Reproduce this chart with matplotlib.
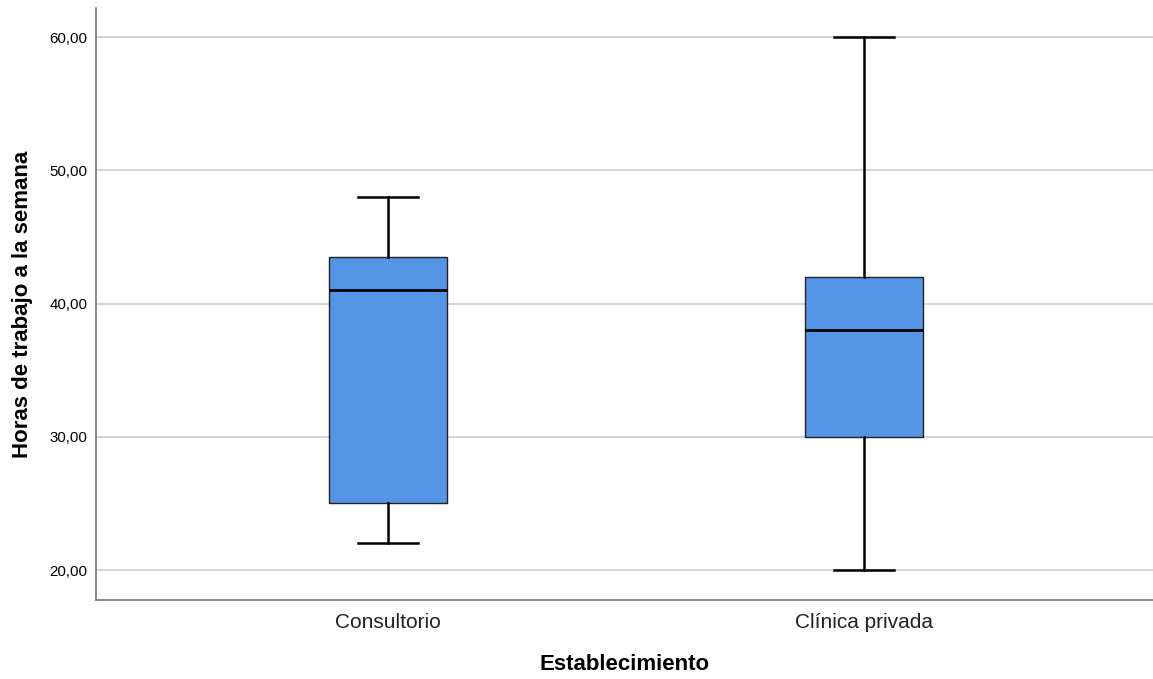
import matplotlib
matplotlib.use('Agg')
import matplotlib.pyplot as plt

plt.rcParams['font.family'] = ['Liberation Sans', 'DejaVu Sans']

# box statistics (hours per week)
categories = ['Consultorio', 'Clínica privada']
whislo = [22, 20]
q1 = [25, 30]
med = [41, 38]
q3 = [43.5, 42]
whishi = [48, 60]
yticks = [20, 30, 40, 50, 60]

stats = []
for i in range(len(categories)):
    stats.append({'label': categories[i], 'whislo': whislo[i], 'q1': q1[i],
                  'med': med[i], 'q3': q3[i], 'whishi': whishi[i], 'fliers': []})

fig = plt.figure(figsize=(11.53, 6.79), dpi=100)
ax = fig.add_axes([0.0833, 0.1163, 0.9167, 0.8717])

ax.bxp(stats, positions=[0, 1], widths=0.248, patch_artist=True, showfliers=False,
       boxprops=dict(facecolor='#5495e6', edgecolor='#222222', linewidth=1.0),
       medianprops=dict(color='black', linewidth=2.0),
       whiskerprops=dict(color='black', linewidth=1.8),
       capprops=dict(color='black', linewidth=1.8),
       capwidths=0.126, zorder=3)

ax.set_xlim(-0.613, 1.607)
ax.set_ylim(17.75, 62.18)
ax.set_yticks(yticks)
ax.set_yticklabels([f'{v:.2f}'.replace('.', ',') for v in yticks], fontsize=10.8)
ax.set_xticks([0, 1])
ax.set_xticklabels(categories, fontsize=15)
ax.tick_params(length=0, pad=6)
ax.tick_params(axis='x', pad=9, colors='#222222')
ax.grid(axis='y', color='#cccccc', linewidth=1.2, zorder=0)
ax.set_axisbelow(True)

for s in ['top', 'right']:
    ax.spines[s].set_visible(False)
for s in ['left', 'bottom']:
    ax.spines[s].set_color('#777777')
    ax.spines[s].set_linewidth(1.2)

ax.set_xlabel('Establecimiento', fontsize=16, fontweight='bold', labelpad=16)
ax.set_ylabel('Horas de trabajo a la semana', fontsize=16, fontweight='bold', labelpad=12)

plt.savefig('out.png')
